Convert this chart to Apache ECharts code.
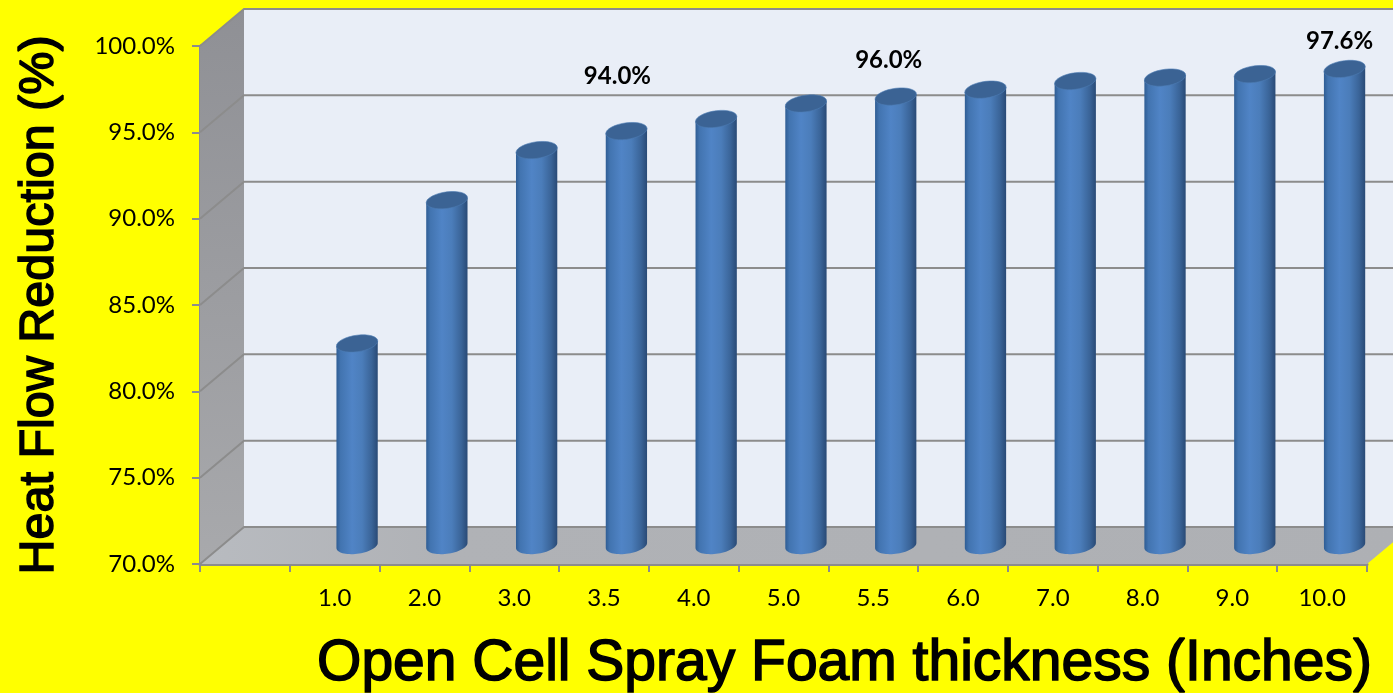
<!DOCTYPE html>
<html>
<head>
<meta charset="utf-8">
<title>Heat flow reduction</title>
<style>
html, body { margin: 0; padding: 0; background: #ffff00; overflow: hidden; }
#main { width: 1393px; height: 693px; }
</style>
<script src="https://cdn.jsdelivr.net/npm/echarts@6/dist/echarts.min.js"></script>
</head>
<body>
<div id="main"></div>
<script>
var thickness = ['1.0', '2.0', '3.0', '3.5', '4.0', '5.0', '5.5', '6.0', '7.0', '8.0', '9.0', '10.0'];
var reduction = [81.7, 90.0, 92.9, 94.0, 94.7, 95.6, 96.0, 96.4, 96.9, 97.1, 97.3, 97.6];
var barLabels = ['', '', '', '94.0%', '', '', '96.0%', '', '', '', '', '97.6%'];
var xLabels = [''].concat(thickness);
var yTicks = [70, 75, 80, 85, 90, 95, 100];

// fake 3d box, px
var depthX = 44;
var depthY = -37;
var axisGrey = '#8c8c8c';
// hand placed like in the original, label dx/dy from the top of the bar
var labelNudge = { '94.0%': [-9, -55], '96.0%': [-7, -36], '97.6%': [-5, -28] };

var myChart = echarts.init(document.getElementById('main'));

function renderWalls(params, api) {
    var c = params.coordSys;
    var left = c.x, right = c.x + c.width, top = c.y, bottom = c.y + c.height;
    var children = [
        {
            type: 'polygon',
            shape: { points: [[left, top], [left + depthX, top + depthY], [right + depthX, top + depthY], [right + depthX, bottom + depthY], [left + depthX, bottom + depthY], [left, bottom]] },
            style: { fill: '#e9eef7' }
        },
        {
            type: 'polygon',
            shape: { points: [[left, top], [left + depthX, top + depthY], [left + depthX, bottom + depthY], [left, bottom]] },
            style: {
                fill: {
                    type: 'linear', x: 0, y: 0, x2: 0, y2: 1,
                    colorStops: [{ offset: 0, color: '#8f9095' }, { offset: 1, color: '#a8a9ac' }]
                }
            }
        },
        {
            type: 'polygon',
            shape: { points: [[left, bottom], [left + depthX, bottom + depthY], [right + depthX, bottom + depthY], [right, bottom]] },
            style: {
                fill: {
                    type: 'linear', x: 0, y: 0, x2: 1, y2: 0,
                    colorStops: [{ offset: 0, color: '#b8bbc0' }, { offset: 0.2, color: '#b0b2b6' }, { offset: 1, color: '#aeb0b4' }]
                }
            }
        }
    ];
    yTicks.forEach(function (t) {
        var y = api.coord([0, t])[1];
        children.push({
            type: 'polyline',
            shape: { points: [[left, y], [left + depthX, y + depthY], [right + depthX, y + depthY]] },
            style: { fill: null, stroke: axisGrey, lineWidth: 2 }
        });
    });
    return { type: 'group', children: children };
}

function ellipsePoints(cx, cy, a, from, to) {
    // skewed ellipse, right side sits higher
    var pts = [];
    for (var i = 0; i <= 32; i++) {
        var t = from + (to - from) * i / 32;
        pts.push([cx + a * Math.cos(t), cy + 8.3 * Math.sin(t) - 2.5 * Math.cos(t)]);
    }
    return pts;
}

function renderBar(params, api) {
    var i = params.dataIndexInside;
    var band = api.size([1, 0])[0];
    var a = band * 0.23;
    var shift = band * 0.25;
    var topPt = api.coord([api.value(0), api.value(1)]);
    var basePt = api.coord([api.value(0), yTicks[0]]);
    var cx = topPt[0] + shift;
    var topY = topPt[1] + depthY / 2;
    var baseY = basePt[1] + depthY / 2;

    var body = ellipsePoints(cx, baseY, a, Math.PI, 0);
    body.unshift([cx - a, topY + 2.5]);
    body.push([cx + a, topY - 2.5]);

    var children = [
        {
            type: 'polygon',
            shape: { points: body },
            style: {
                fill: {
                    type: 'linear', x: 0, y: 0, x2: 1, y2: 0,
                    colorStops: [
                        { offset: 0, color: '#2f5d94' },
                        { offset: 0.1, color: '#4274b0' },
                        { offset: 0.38, color: '#5084c6' },
                        { offset: 0.62, color: '#4b7dba' },
                        { offset: 0.85, color: '#3a6498' },
                        { offset: 1, color: '#294a76' }
                    ]
                }
            }
        },
        {
            type: 'polygon',
            shape: { points: ellipsePoints(cx, topY, a, 0, Math.PI * 2) },
            style: { fill: '#3b6394', stroke: '#4e7cb4', lineWidth: 0.6 }
        }
    ];
    if (barLabels[i]) {
        var nudge = labelNudge[barLabels[i]];
        children.push({
            type: 'text',
            x: cx + nudge[0],
            y: topY + nudge[1],
            style: {
                text: barLabels[i],
                fill: '#000',
                font: 'bold 24px Lato',
                align: 'center',
                verticalAlign: 'middle'
            }
        });
    }
    return { type: 'group', children: children };
}

var option = {
    backgroundColor: '#ffff00',
    animation: false,
    grid: { left: 200, right: 26, top: 46, bottom: 129, outerBoundsMode: 'none' },
    xAxis: {
        type: 'category',
        data: xLabels,
        name: 'Open Cell Spray Foam thickness (Inches)',
        nameLocation: 'center',
        nameGap: 72,
        nameTextStyle: {
            fontFamily: 'Liberation Sans',
            fontSize: 57,
            color: '#000',
            textBorderColor: '#000',
            textBorderWidth: 1.5,
            padding: [0, 0, 0, 122]
        },
        axisLine: { onZero: false, lineStyle: { color: axisGrey, width: 3 } },
        axisTick: { show: true, length: 8, lineStyle: { color: axisGrey, width: 2 } },
        axisLabel: { interval: 0, margin: 22, color: '#000', fontFamily: 'Lato', fontSize: 24 },
        splitLine: { show: false }
    },
    yAxis: {
        type: 'value',
        min: 70,
        max: 100,
        interval: 5,
        name: 'Heat Flow Reduction (%)',
        nameLocation: 'center',
        nameRotate: 90,
        nameGap: 136,
        nameTextStyle: {
            fontFamily: 'Liberation Sans',
            fontSize: 48.5,
            color: '#000',
            textBorderColor: '#000',
            textBorderWidth: 1.5
        },
        axisLine: { show: true, lineStyle: { color: axisGrey, width: 3 } },
        axisTick: { show: true, length: 8, lineStyle: { color: axisGrey, width: 2 } },
        axisLabel: {
            margin: 25,
            padding: [4, 0, 0, 0],
            color: '#000',
            fontFamily: 'Lato',
            fontSize: 24,
            formatter: function (v) { return v.toFixed(1) + '%'; }
        },
        splitLine: { show: false }
    },
    series: [
        {
            type: 'custom',
            z: 1,
            silent: true,
            renderItem: renderWalls,
            data: [[0, 70]]
        },
        {
            type: 'custom',
            z: 2,
            silent: true,
            renderItem: renderBar,
            encode: { x: 0, y: 1 },
            data: reduction.map(function (v, i) { return [thickness[i], v]; })
        }
    ]
};
myChart.setOption(option);
</script>
</body>
</html>
